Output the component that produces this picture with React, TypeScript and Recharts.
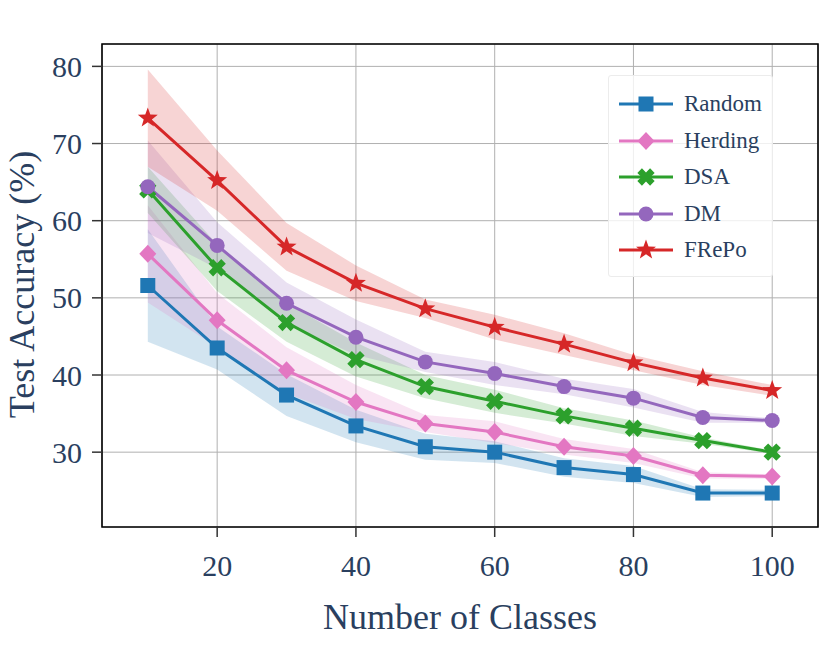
import React from 'react';
import {
  ComposedChart,
  Line,
  Area,
  XAxis,
  YAxis,
  CartesianGrid,
  ReferenceArea,
  Label,
} from 'recharts';

// number of classes on the x axis
const classes = [10, 20, 30, 40, 50, 60, 70, 80, 90, 100];

// mean test accuracy and half-width of the shaded band for each method
const randomMean = [51.6, 43.5, 37.4, 33.4, 30.7, 30.0, 28.0, 27.1, 24.7, 24.7];
const randomStd = [7.3, 2.8, 2.7, 2.1, 1.7, 1.4, 1.2, 1.1, 0.5, 0.4];
const herdingMean = [55.7, 47.1, 40.6, 36.5, 33.7, 32.6, 30.7, 29.5, 27.0, 26.85];
const herdingStd = [6.3, 3.5, 3.0, 2.2, 1.1, 1.4, 1.0, 0.9, 0.4, 0.3];
const dsaMean = [64.0, 53.9, 46.8, 42.0, 38.5, 36.6, 34.7, 33.1, 31.5, 30.0];
const dsaStd = [3.0, 3.0, 2.5, 2.2, 1.5, 1.5, 1.0, 1.0, 0.4, 0.2];
const dmMean = [64.4, 56.8, 49.3, 44.9, 41.7, 40.2, 38.5, 37.0, 34.5, 34.1];
const dmStd = [6.0, 3.0, 2.7, 2.3, 1.3, 1.5, 1.0, 1.2, 0.7, 0.3];
const frepoMean = [73.3, 65.2, 56.6, 51.9, 48.6, 46.2, 44.0, 41.6, 39.6, 38.0];
const frepoStd = [6.3, 3.9, 3.1, 2.3, 1.2, 1.6, 1.4, 1.0, 0.9, 0.7];

const xTicks = [20, 40, 60, 80, 100];
const yTicks = [30, 40, 50, 60, 70, 80];

const FONT = '"Liberation Serif", "DejaVu Serif", serif';
const TEXT = '#2a3f5f';

type Shape = 'square' | 'diamond' | 'x' | 'circle' | 'star';

const series: { key: string; name: string; color: string; shape: Shape; mean: number[]; std: number[] }[] = [
  { key: 'random', name: 'Random', color: '#1f77b4', shape: 'square', mean: randomMean, std: randomStd },
  { key: 'herding', name: 'Herding', color: '#e377c2', shape: 'diamond', mean: herdingMean, std: herdingStd },
  { key: 'dsa', name: 'DSA', color: '#2ca02c', shape: 'x', mean: dsaMean, std: dsaStd },
  { key: 'dm', name: 'DM', color: '#9467bd', shape: 'circle', mean: dmMean, std: dmStd },
  { key: 'frepo', name: 'FRePo', color: '#d62728', shape: 'star', mean: frepoMean, std: frepoStd },
];

const data = classes.map((c, i) => {
  const row: Record<string, any> = { classes: c };
  series.forEach((s) => {
    row[s.key] = s.mean[i];
    row[s.key + 'Band'] = [s.mean[i] - s.std[i], s.mean[i] + s.std[i]];
  });
  return row;
});

function xPath(cx: number, cy: number, r: number) {
  const w = 0.36;
  const pts = [
    [-w, -1], [w, -1], [w, -w], [1, -w], [1, w], [w, w],
    [w, 1], [-w, 1], [-w, w], [-1, w], [-1, -w], [-w, -w],
  ];
  const c = Math.SQRT1_2;
  return (
    pts
      .map(([px, py], i) => {
        const rx = (px * c - py * c) * r + cx;
        const ry = (px * c + py * c) * r + cy;
        return (i === 0 ? 'M' : 'L') + rx.toFixed(2) + ',' + ry.toFixed(2);
      })
      .join('') + 'Z'
  );
}

function starPath(cx: number, cy: number, ro: number, ri: number) {
  let d = '';
  for (let i = 0; i < 10; i++) {
    const r = i % 2 === 0 ? ro : ri;
    const a = -Math.PI / 2 + (i * Math.PI) / 5;
    d += (i === 0 ? 'M' : 'L') + (cx + r * Math.cos(a)).toFixed(2) + ',' + (cy + r * Math.sin(a)).toFixed(2);
  }
  return d + 'Z';
}

function Marker({ cx, cy, shape, color }: { cx: number; cy: number; shape: Shape; color: string }) {
  if (cx == null || cy == null) return null;
  switch (shape) {
    case 'square':
      return <rect x={cx - 7.5} y={cy - 7.5} width={15} height={15} fill={color} />;
    case 'diamond':
      return <path d={`M${cx},${cy - 9}L${cx + 8.5},${cy}L${cx},${cy + 9}L${cx - 8.5},${cy}Z`} fill={color} />;
    case 'x':
      return <path d={xPath(cx, cy, 9)} fill={color} />;
    case 'circle':
      return <circle cx={cx} cy={cy} r={7.5} fill={color} />;
    case 'star':
      return <path d={starPath(cx, cy, 10.5, 4.3)} fill={color} />;
  }
  return null;
}

function ChartLegend() {
  return (
    <div
      style={{
        position: 'absolute',
        left: 608,
        top: 75,
        width: 165,
        height: 202,
        boxSizing: 'border-box',
        background: 'rgba(255,255,255,0.8)',
        border: '1px solid #ececec',
        borderRadius: 3,
      }}
    >
      {series.map((s, i) => (
        <div
          key={s.key}
          style={{ position: 'absolute', left: 0, top: 28.3 + i * 36.5 - 18, height: 36, width: 165 }}
        >
          <svg width={70} height={36} style={{ position: 'absolute', left: 0, top: 0 }}>
            <line x1={10} x2={64} y1={18} y2={18} stroke={s.color} strokeWidth={3} />
            <Marker cx={37} cy={18} shape={s.shape} color={s.color} />
          </svg>
          <span
            style={{
              position: 'absolute',
              left: 75,
              top: 0,
              lineHeight: '36px',
              fontFamily: FONT,
              fontSize: 23,
              color: TEXT,
              whiteSpace: 'nowrap',
            }}
          >
            {s.name}
          </span>
        </div>
      ))}
    </div>
  );
}

export default function App() {
  return (
    <div style={{ position: 'absolute', left: 0, top: 0, width: 830, height: 649, background: '#fff' }}>
      <ComposedChart width={830} height={649} data={data} margin={{ top: 44, right: 12, bottom: 82, left: 0 }}>
        <CartesianGrid stroke="#b0b0b0" strokeWidth={1} />
        <XAxis
          dataKey="classes"
          type="number"
          domain={[3.4, 106.6]}
          allowDataOverflow
          ticks={xTicks}
          height={40}
          axisLine={false}
          tickSize={10}
          tickMargin={18}
          tickLine={{ stroke: '#333', strokeWidth: 1.5 }}
          tick={{ fontSize: 30, fill: TEXT, fontFamily: FONT }}
        >
          <Label
            content={() => (
              <text x={460} y={629} textAnchor="middle" fontSize={36} fill={TEXT} fontFamily={FONT}>
                Number of Classes
              </text>
            )}
          />
        </XAxis>
        <YAxis
          type="number"
          domain={[20.3, 82.9]}
          allowDataOverflow
          ticks={yTicks}
          width={102}
          axisLine={false}
          tickSize={10}
          tickMargin={10}
          tickLine={{ stroke: '#333', strokeWidth: 1.5 }}
          tick={{ fontSize: 30, fill: TEXT, fontFamily: FONT }}
        >
          <Label
            content={() => (
              <text
                x={33.5}
                y={284.5}
                transform="rotate(-90 33.5 284.5)"
                textAnchor="middle"
                fontSize={36}
                fill={TEXT}
                fontFamily={FONT}
              >
                Test Accuracy (%)
              </text>
            )}
          />
        </YAxis>
        {series.map((s) => (
          <Area
            key={s.key + 'Band'}
            dataKey={s.key + 'Band'}
            type="linear"
            stroke="none"
            fill={s.color}
            fillOpacity={0.2}
            isAnimationActive={false}
            activeDot={false}
          />
        ))}
        {series.map((s) => (
          <Line
            key={s.key}
            dataKey={s.key}
            type="linear"
            stroke={s.color}
            strokeWidth={3}
            isAnimationActive={false}
            activeDot={false}
            dot={(p: any) => <Marker key={s.key + p.index} cx={p.cx} cy={p.cy} shape={s.shape} color={s.color} />}
          />
        ))}
        <ReferenceArea
          x1={3.4}
          x2={106.6}
          y1={20.3}
          y2={82.9}
          fill="none"
          stroke="#000"
          strokeWidth={1.6}
          ifOverflow="visible"
        />
      </ComposedChart>
      <ChartLegend />
    </div>
  );
}
